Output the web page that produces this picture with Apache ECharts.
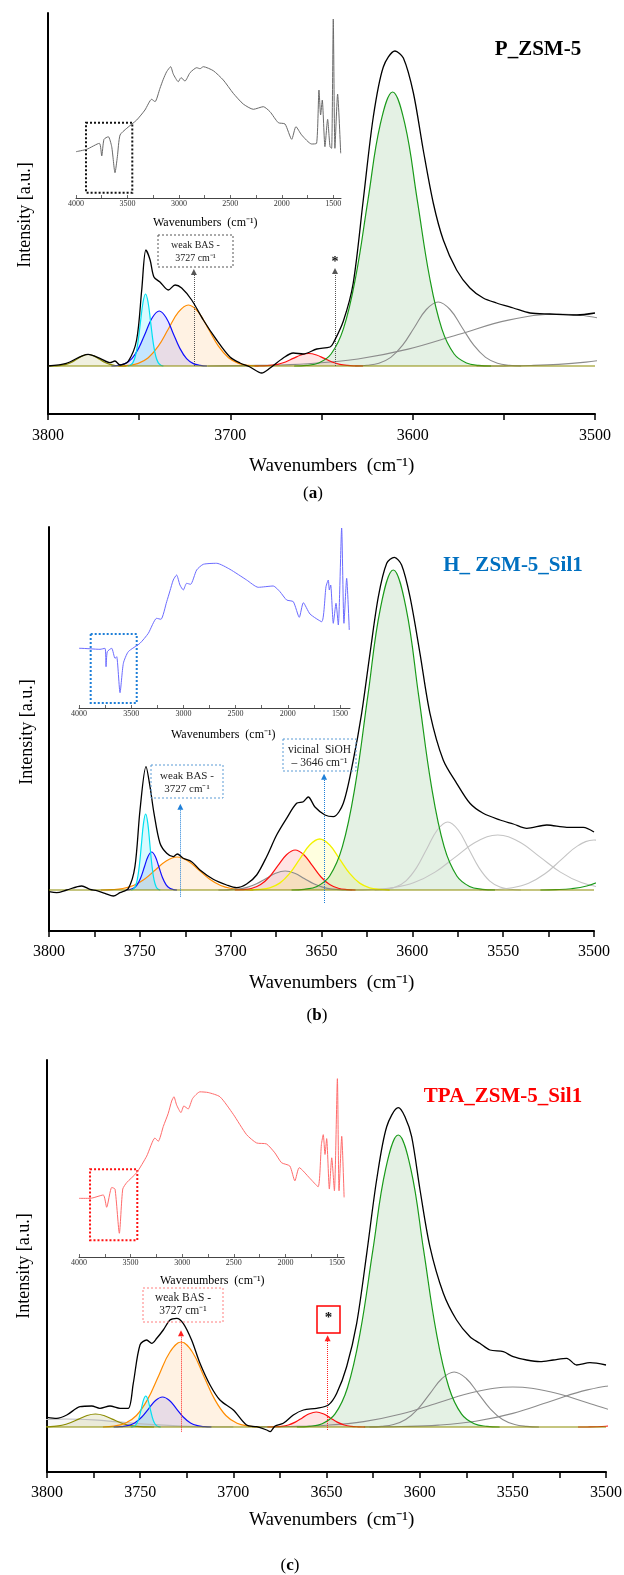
<!DOCTYPE html>
<html><head><meta charset="utf-8">
<script src="https://cdn.jsdelivr.net/npm/echarts@6/dist/echarts.min.js"></script>
<style>html,body{margin:0;padding:0;background:#fff}#c{width:624px;height:1575px}</style>
</head><body><div id="c"></div>
<script>
const FONT = "'Liberation Serif','Times New Roman',serif";
const baseline = [[3800, 0], [3500, 0]];
const mainTicks = ['3800', '3750', '3700', '3650', '3600', '3550', '3500'];
const insetTickVals = [4000, 3750, 3500, 3250, 3000, 2750, 2500, 2250, 2000, 1750, 1500];
const insetLabelVals = [4000, 3500, 3000, 2500, 2000, 1500];

// ---------- Panel (a) P_ZSM-5 ----------
const aBlack = [[3800,0],[3790,2.7],[3778,11.7],[3771.5,7.7],[3766,3.3],[3763.3,5],[3760.5,1],[3756,4.7],[3751.4,26],[3748.6,76],[3746.3,116],[3744,106],[3741.9,89],[3738.6,84],[3734,76],[3730.3,81],[3726.7,78],[3721.2,66],[3714.8,46],[3707.5,26],[3700.2,9],[3694.7,3],[3689.2,-1],[3682.8,-7],[3678.2,-2],[3671,8],[3665.5,13],[3660,12],[3652.6,17],[3645.3,19],[3643.5,23],[3638,45],[3632.6,83],[3627.1,166],[3621.6,249],[3616.1,299],[3609.7,315],[3605.1,308],[3599.6,273],[3594.2,216],[3588.7,163],[3583.2,126],[3575.9,96],[3568.6,78],[3561.3,68],[3554,63],[3544.8,58],[3535.6,53],[3524.7,52],[3510,51],[3500,53]];
const aOlive = [[3799,0],[3796,0.13],[3793,0.5],[3790,1.56],[3787,3.73],[3784,6.97],[3781,10.15],[3778,11.5],[3775,10.15],[3772,6.97],[3769,3.73],[3766,1.56],[3763,0.5],[3760,0.13],[3757,0]];
const aCyan = [[3756.3,0],[3754.9,0.8],[3753.5,3.16],[3752.1,9.74],[3750.7,23.4],[3749.3,43.7],[3747.9,63.5],[3746.5,72],[3745.1,63.5],[3743.7,43.7],[3742.3,23.4],[3740.9,9.74],[3739.5,3.16],[3738.1,0.8],[3736.7,0]];
const aBlue = [[3765.25,0],[3761.5,0.61],[3757.75,2.41],[3754,7.44],[3750.25,17.86],[3746.5,33.36],[3742.75,48.54],[3739,55],[3735.25,48.54],[3731.5,33.36],[3727.75,17.86],[3724,7.44],[3720.25,2.41],[3716.5,0.61],[3712.75,0]];
const aOrange = [[3761.5,0],[3756,0.68],[3750.5,2.68],[3745,8.25],[3739.5,19.8],[3734,37],[3728.5,53.8],[3723,61],[3717.5,53.8],[3712,37],[3706.5,19.8],[3701,8.25],[3695.5,2.68],[3690,0.68],[3684.5,0]];
const aRed = [[3686.75,0],[3682.5,0.14],[3678.25,0.55],[3674,1.69],[3669.75,4.06],[3665.5,7.58],[3661.25,11.03],[3657,12.5],[3652.75,11.03],[3648.5,7.58],[3644.25,4.06],[3640,1.69],[3635.75,0.55],[3631.5,0.14],[3627.25,0]];
const aGreen = [[3665,0],[3658.25,0.6],[3651.5,3.04],[3644.75,12],[3638,37.1],[3631.25,89],[3624.5,166.2],[3617.75,241.8],[3611,274],[3604.25,241.8],[3597.5,166.2],[3590.75,89],[3584,37.1],[3577.25,12],[3570.5,3.04],[3563.75,0.6],[3557,0]];
const aGray1 = [[3631.5,0],[3625,0.71],[3618.5,2.81],[3612,8.66],[3605.5,20.8],[3599,38.8],[3592.5,56.5],[3586,64],[3579.5,56.5],[3573,38.8],[3566.5,20.8],[3560,8.66],[3553.5,2.81],[3547,0.71],[3540.5,0]];
const aGray2 = [[3712.5,0],[3685,0.58],[3657.5,2.28],[3630,7.04],[3602.5,16.9],[3575,31.5],[3547.5,45.9],[3520,52],[3492.5,45.9],[3465,31.5]];
const aGray3 = [[3565,0],[3550,0.13],[3535,0.53],[3520,1.62],[3505,3.9],[3490,7.3],[3475,10.6],[3460,12]];
const aInset = [[4000,46.3],[3896,48.7],[3773,54.7],[3750,42],[3728,58.7],[3686,61.3],[3653,51.3],[3621,25.3],[3598,41.3],[3572,63],[3507,69.7],[3410,78],[3330,88],[3265,98.7],[3232,96.3],[3184,109.7],[3152,118.7],[3119,126.3],[3080,131.3],[3055,124],[3006,116.3],[2980,120.3],[2941,117],[2892,125.3],[2827,130.3],[2795,129.3],[2763,131.3],[2666,127.3],[2569,118],[2472,104.7],[2375,94],[2277,88.7],[2180,91.3],[2115,86.3],[2034,75.3],[1969,74],[1904,58.7],[1863,71.3],[1807,63],[1710,54],[1662,54.7],[1639,108],[1623,83],[1607,98],[1581,51.3],[1555,78.7],[1532,51.3],[1516,49.7],[1500,179],[1484,49.7],[1458,104],[1428,44.7]];
const aInsetBox = [[3903, 75.3], [3453, 5.3]];
const aArrows = [[3720, 0, 94], [3642.6, 0, 95]];

// ---------- Panel (b) H_ZSM-5_Sil1 ----------
const bBlack = [[3800,-1.7],[3795.8,-2.7],[3790.3,0],[3782,4],[3777.4,0.7],[3773.7,-0.7],[3769.2,-3.3],[3764.6,-6],[3761,-2.7],[3756.3,1.7],[3752.7,23.3],[3749.9,80],[3746.6,123.3],[3744.4,103.3],[3742.2,76.7],[3738.9,46.7],[3735.2,36.7],[3731.6,33.3],[3729.4,36],[3726.1,31.7],[3721.5,28.3],[3716.9,20],[3709.6,10.7],[3702.2,5],[3696.7,2.3],[3691.2,6],[3685.7,15],[3680.2,33.3],[3674.7,55],[3669.2,71.7],[3663.7,86.7],[3660,88.3],[3657.3,93],[3653.6,83],[3648.1,75],[3643.5,73.3],[3638,86.7],[3632.5,130],[3627.9,176.7],[3623.3,236.7],[3618.7,293.3],[3614.1,326.7],[3609.9,332.7],[3605.9,325],[3601.3,293.3],[3595.8,236.7],[3590.3,176.7],[3583,130],[3575.6,106.7],[3568.3,86.7],[3561,76.7],[3551.7,70],[3544.4,66],[3537,61.7],[3526,65],[3515,62.7],[3505.9,62.7],[3500,58]];
const bCyan = [[3754.85,0],[3753.7,0.84],[3752.55,3.34],[3751.4,10.3],[3750.25,24.7],[3749.1,46.1],[3747.95,67.1],[3746.8,76],[3745.65,67.1],[3744.5,46.1],[3743.35,24.7],[3742.2,10.3],[3741.05,3.34],[3739.9,0.84],[3738.75,0]];
const bBlue = [[3757.5,0],[3755.5,0.42],[3753.5,1.67],[3751.5,5.14],[3749.5,12.3],[3747.5,23],[3745.5,33.5],[3743.5,38],[3741.5,33.5],[3739.5,23],[3737.5,12.3],[3735.5,5.14],[3733.5,1.67],[3731.5,0.42],[3729.5,0]];
const bOrange = [[3771.5,0],[3765.5,0.37],[3759.5,1.45],[3753.5,4.46],[3747.5,10.7],[3741.5,20],[3735.5,29.1],[3729.5,33],[3723.5,29.1],[3717.5,20],[3711.5,10.7],[3705.5,4.46],[3699.5,1.45],[3693.5,0.37],[3687.5,0]];
const bGrayL = [[3706.75,0],[3701.5,0.21],[3696.25,0.83],[3691,2.57],[3685.75,6.17],[3680.5,11.5],[3675.25,16.8],[3670,19],[3664.75,16.8],[3659.5,11.5],[3654.25,6.17],[3649,2.57],[3643.75,0.83],[3638.5,0.21],[3633.25,0]];
const bRed = [[3697.75,0],[3693,0.44],[3688.25,1.76],[3683.5,5.41],[3678.75,13],[3674,24.3],[3669.25,35.3],[3664.5,40],[3659.75,35.3],[3655,24.3],[3650.25,13],[3645.5,5.41],[3640.75,1.76],[3636,0.44],[3631.25,0]];
const bYellow = [[3689.5,0],[3684,0.57],[3678.5,2.24],[3673,6.9],[3667.5,16.6],[3662,30.9],[3656.5,45],[3651,51],[3645.5,45],[3640,30.9],[3634.5,16.6],[3629,6.9],[3623.5,2.24],[3618,0.57],[3612.5,0]];
const bGreen = [[3666.5,0],[3659.5,0.7],[3652.5,3.55],[3645.5,14],[3638.5,43.3],[3631.5,103.9],[3624.5,194.1],[3617.5,282.4],[3610.5,320],[3603.5,282.4],[3596.5,194.1],[3589.5,103.9],[3582.5,43.3],[3575.5,14],[3568.5,3.55],[3561.5,0.7],[3554.5,0]];
const bGray1 = [[3620.75,0],[3615,0.75],[3609.25,2.99],[3603.5,9.2],[3597.75,22.1],[3592,41.2],[3586.25,60],[3580.5,68],[3574.75,60],[3569,41.2],[3563.25,22.1],[3557.5,9.2],[3551.75,2.99],[3546,0.75],[3540.25,0]];
const bGray2 = [[3633.5,0],[3622,0.61],[3610.5,2.41],[3599,7.44],[3587.5,17.9],[3576,33.4],[3564.5,48.5],[3553,55],[3541.5,48.5],[3530,33.4],[3518.5,17.9],[3507,7.44],[3495.5,2.41],[3484,0.61],[3472.5,0]];
const bGray3 = [[3563,0],[3554,0.56],[3545,2.2],[3536,6.8],[3527,16.2],[3518,30.3],[3509,44.1],[3500,50],[3491,44.1],[3482,30.3]];
const bGreen2 = [[3529.5,0],[3521,0.33],[3512.5,1.32],[3504,4.06],[3495.5,9.74],[3487,18.2],[3478.5,26.5],[3470,30]];
const bInset = [[4000,59.7],[3990,59.7],[3799,58.7],[3751,59.7],[3741,41.3],[3729,56.3],[3687,59.7],[3655,49.7],[3639,51.3],[3607,15.3],[3575,44.7],[3528,56.3],[3416,64.7],[3336,74.7],[3256,89.7],[3215,88.7],[3160,106.3],[3128,117.3],[3097,128],[3065,133],[3033,123],[3001,118],[2969,124.7],[2931,123.7],[2873,138],[2809,143.7],[2681,144.7],[2554,138.7],[2394,128],[2283,120.7],[2139,122],[2075,116.3],[2011,108],[1947,106.3],[1890,90.7],[1851,105.3],[1787,94],[1675,86.3],[1634,121.3],[1612,128],[1602,118],[1589,123],[1564,84.7],[1538,104.7],[1516,83],[1484,180],[1462,84.7],[1436,129.7],[1411,78]];
const bInsetBox = [[3888, 74], [3447, 5]];
const bArrows = [[3727.7, -6.7, 83.3], [3648.6, -13, 113.3]];

// ---------- Panel (c) TPA_ZSM-5_Sil1 ----------
const cBlack = [[3800,9.7],[3794.8,8.7],[3789.4,12],[3782.3,20.3],[3776,21],[3771.6,18.7],[3766.2,21],[3760.8,18.7],[3756.4,18.7],[3753.7,43.7],[3750.1,82],[3746.5,87],[3743.8,83.7],[3741.1,88.7],[3737.6,97],[3734,107],[3730.4,108.7],[3726.9,103.7],[3722.4,87],[3717.9,63.7],[3712.5,42],[3707.2,27],[3700,17],[3692.9,2],[3687.5,0.3],[3682.1,-3],[3680.3,-4.7],[3677.6,1],[3673.2,3.7],[3667.8,12],[3662.4,17],[3655.3,18.7],[3649,22],[3644.5,33.7],[3639.2,60.3],[3633.8,103.7],[3628.4,173.7],[3623.1,247],[3617.7,300.3],[3611.5,319.3],[3607.9,310.3],[3604.3,290.3],[3599.8,237],[3594.5,180.3],[3587.3,133.7],[3580.2,107],[3573,90.3],[3567.7,83.7],[3562.3,77],[3555.1,75.3],[3549.8,70.3],[3542.6,67],[3535.4,65.3],[3528.3,67],[3521.1,68.7],[3515.8,62],[3508.6,64.3],[3500,62]];
const cGrayL = [[3835,2.6],[3820,4.85],[3805,7.06],[3790,8],[3775,7.06],[3760,4.85],[3745,2.6],[3730,1.08],[3715,0.35],[3700,0.09]];
const cOlive = [[3805.5,0],[3801,0.14],[3796.5,0.57],[3792,1.76],[3787.5,4.22],[3783,7.88],[3778.5,11.5],[3774,13],[3769.5,11.5],[3765,7.88],[3760.5,4.22],[3756,1.76],[3751.5,0.57],[3747,0.14],[3742.5,0]];
const cCyan = [[3755.05,0],[3753.9,0.34],[3752.75,1.36],[3751.6,4.19],[3750.45,10.1],[3749.3,18.8],[3748.15,27.4],[3747,31],[3745.85,27.4],[3744.7,18.8],[3743.55,10.1],[3742.4,4.19],[3741.25,1.36],[3740.1,0.34],[3738.95,0]];
const cBlue = [[3764.25,0],[3760.5,0.33],[3756.75,1.32],[3753,4.06],[3749.25,9.74],[3745.5,18.2],[3741.75,26.5],[3738,30],[3734.25,26.5],[3730.5,18.2],[3726.75,9.74],[3723,4.06],[3719.25,1.32],[3715.5,0.33],[3711.75,0]];
const cOrange = [[3770,0],[3764,0.94],[3758,3.73],[3752,11.5],[3746,27.6],[3740,51.6],[3734,75],[3728,85],[3722,75],[3716,51.6],[3710,27.6],[3704,11.5],[3698,3.73],[3692,0.94],[3686,0]];
const cRed = [[3681.75,0],[3678,0.17],[3674.25,0.66],[3670.5,2.03],[3666.75,4.87],[3663,9.1],[3659.25,13.2],[3655.5,15],[3651.75,13.2],[3648,9.1],[3644.25,4.87],[3640.5,2.03],[3636.75,0.66],[3633,0.17],[3629.25,0]];
const cGreen = [[3665.9,0],[3659.1,0.64],[3652.3,3.24],[3645.5,12.8],[3638.7,39.5],[3631.9,94.8],[3625.1,177.1],[3618.3,257.7],[3611.5,292],[3604.7,257.7],[3597.9,177.1],[3591.1,94.8],[3584.3,39.5],[3577.5,12.8],[3570.7,3.24],[3563.9,0.64],[3557.1,0]];
const cGray1 = [[3627,0],[3620.5,0.61],[3614,2.41],[3607.5,7.44],[3601,17.9],[3594.5,33.4],[3588,48.5],[3581.5,55],[3575,48.5],[3568.5,33.4],[3562,17.9],[3555.5,7.44],[3549,2.41],[3542.5,0.61],[3536,0]];
const cGray2 = [[3690,0.09],[3670,0.44],[3650,1.76],[3630,5.41],[3610,13],[3590,24.3],[3570,35.3],[3550,40],[3530,35.3],[3510,24.3],[3490,13],[3470,5.41]];
const cGray3 = [[3630,0.09],[3610,0.47],[3590,1.85],[3570,5.7],[3550,13.6],[3530,25.5],[3510,37.1],[3490,42],[3470,37.1]];
const cRed2 = [[3515,0],[3510,0.07],[3505,0.26],[3500,0.81],[3495,1.95],[3490,3.64]];
const cInset = [[4000,59.3],[3893,59.3],[3765,62.7],[3732,50.3],[3683,70.3],[3651,68.7],[3609,24],[3576,68.7],[3537,75.3],[3441,85.3],[3344,102],[3264,120.3],[3232,117],[3183,132],[3135,145.3],[3102,157.7],[3080,162],[3054,153.7],[3012,146],[2984,152.7],[2942,149.7],[2899,160.3],[2828,167],[2748,166.3],[2634,162],[2505,144.3],[2376,123.7],[2279,115.3],[2183,114.3],[2102,105.3],[2037,95.3],[1957,92],[1908,77],[1866,90.3],[1764,79.7],[1683,71],[1651,113.7],[1633,123.7],[1616,103.7],[1600,119.7],[1574,68.7],[1551,100.3],[1525,67],[1496,180.3],[1480,67],[1454,122],[1431,60.3]];
const cInsetBox = [[3893, 88.7], [3435, 17]];
const cArrows = [[3728.1, -4.7, 93.7], [3649.4, -3, 88.7]];

// ---------- colours ----------
const C = {
  olive: ['#8B8B00', 'rgba(139,139,0,0.18)'],
  cyan: ['#00E0F0', 'rgba(0,220,255,0.22)'],
  blue: ['#1010FF', 'rgba(60,60,255,0.17)'],
  orange: ['#FF8C00', 'rgba(255,160,60,0.2)'],
  red: ['#FF1010', 'rgba(255,0,0,0.15)'],
  green: ['#1A9A1A', 'rgba(40,140,40,0.18)'],
  yellow: ['#F2F200', 'rgba(255,255,0,0.18)'],
  gray: ['#8C8C8C', null],
  lgray: ['#C4C4C4', null]
};

function ln(data, ax, col, fill, w, z) {
  const s = {
    type: 'line', data: data, xAxisIndex: ax, yAxisIndex: ax, symbol: 'none', smooth: 0.4,
    silent: true, animation: false, z: z || 2,
    lineStyle: { color: col, width: w || 1.2 }
  };
  if (fill) s.areaStyle = { color: fill, origin: 'auto' };
  return s;
}
function black(data, ax, arrows, acol) {
  const s = ln(data, ax, '#000', null, 1.3, 5);
  s.smooth = 0.3;
  s.markLine = {
    silent: true, animation: false, symbol: ['none', 'triangle'], symbolSize: 6,
    label: { show: false }, lineStyle: { type: 'dotted', color: acol, width: 1 },
    data: arrows.map(a => [{ coord: [a[0], a[1]] }, { coord: [a[0], a[2]] }])
  };
  return s;
}
function inset(data, ax, col, box, boxCol) {
  const s = ln(data, ax, col, null, 1, 3);
  s.smooth = 0.2;
  s.markArea = {
    silent: true, animation: false,
    itemStyle: { color: 'rgba(0,0,0,0)', borderColor: boxCol, borderWidth: 2, borderType: 'dotted' },
    data: [[{ coord: box[0] }, { coord: box[1] }]]
  };
  return s;
}

function mainX(gi, interval, labelStep, margin) {
  return {
    type: 'value', gridIndex: gi, inverse: true, min: 3500, max: 3800, interval: interval,
    axisLine: { onZero: false, lineStyle: { color: '#000', width: 2 } },
    axisTick: { show: true, inside: false, length: 6, lineStyle: { color: '#000', width: 1.5 } },
    axisLabel: { margin: margin, fontSize: 16, fontFamily: FONT, color: '#000',
      formatter: v => (Math.round(v) % labelStep === 0 && mainTicks.indexOf(String(Math.round(v))) >= 0 ? String(Math.round(v)) : '') },
    splitLine: { show: false }
  };
}
function insetX(gi, min) {
  return {
    type: 'value', gridIndex: gi, inverse: true, min: min, max: 4000,
    axisLine: { onZero: false, lineStyle: { color: '#444', width: 1 } },
    axisTick: { show: true, inside: true, length: 3, customValues: insetTickVals, lineStyle: { color: '#444', width: 0.8 } },
    axisLabel: { customValues: insetLabelVals, margin: 2, fontSize: 8, fontFamily: FONT, color: '#333',
      formatter: v => String(Math.round(v)) },
    splitLine: { show: false }
  };
}
function mainY(gi, min, max) {
  return { type: 'value', gridIndex: gi, min: min, max: max,
    axisLine: { show: true, onZero: false, lineStyle: { color: '#000', width: 2 } },
    axisTick: { show: false }, axisLabel: { show: false }, splitLine: { show: false } };
}
function insetY(gi, max) {
  return { type: 'value', gridIndex: gi, min: 0, max: max, show: false, splitLine: { show: false } };
}

const g = (o) => Object.assign({ containLabel: false, outerBoundsMode: 'none' }, o);
const grids = [
  g({ left: 48, top: 13, width: 547, height: 401 }),
  g({ left: 76, top: 18, width: 265, height: 180 }),
  g({ left: 49, top: 527, width: 545, height: 404 }),
  g({ left: 79, top: 528, width: 271, height: 180 }),
  g({ left: 47, top: 1060, width: 559, height: 412 }),
  g({ left: 79, top: 1077, width: 265, height: 180 })
];

const series = [
  // panel a
  ln(aGray2, 0, C.gray[0], null, 1.1),
  ln(aGray3, 0, C.gray[0], null, 1.1),
  ln(aGray1, 0, C.gray[0], null, 1.1),
  ln(aOlive, 0, C.olive[0], C.olive[1]),
  ln(aOrange, 0, C.orange[0], C.orange[1]),
  ln(aBlue, 0, C.blue[0], C.blue[1]),
  ln(aCyan, 0, C.cyan[0], C.cyan[1]),
  ln(aRed, 0, C.red[0], C.red[1]),
  ln(aGreen, 0, C.green[0], C.green[1]),
  ln(baseline, 0, C.olive[0], null, 1.2, 4),
  black(aBlack, 0, aArrows, '#555'),
  inset(aInset, 1, '#6a6a6a', aInsetBox, '#111'),
  // panel b
  ln(bGray1, 2, C.lgray[0], null, 1.1),
  ln(bGray2, 2, C.lgray[0], null, 1.1),
  ln(bGray3, 2, C.lgray[0], null, 1.1),
  ln(bGreen2, 2, C.green[0], null, 1.1),
  ln(bOrange, 2, C.orange[0], C.orange[1]),
  ln(bBlue, 2, C.blue[0], C.blue[1]),
  ln(bCyan, 2, C.cyan[0], C.cyan[1]),
  ln(bGrayL, 2, C.gray[0], 'rgba(150,150,150,0.15)'),
  ln(bRed, 2, C.red[0], C.red[1]),
  ln(bYellow, 2, C.yellow[0], C.yellow[1], 1.3),
  ln(bGreen, 2, C.green[0], C.green[1]),
  ln(baseline, 2, C.olive[0], null, 1.2, 4),
  black(bBlack, 2, bArrows, '#1E7FD8'),
  inset(bInset, 3, '#6B6BFF', bInsetBox, '#1E7FD8'),
  // panel c
  ln(cGrayL, 4, '#BDBDBD', 'rgba(170,170,170,0.12)'),
  ln(cGray2, 4, C.gray[0], null, 1.1),
  ln(cGray3, 4, C.gray[0], null, 1.1),
  ln(cGray1, 4, C.gray[0], null, 1.1),
  ln(cRed2, 4, C.red[0], null, 1.1),
  ln(cOlive, 4, C.olive[0], C.olive[1]),
  ln(cOrange, 4, C.orange[0], C.orange[1]),
  ln(cBlue, 4, C.blue[0], C.blue[1]),
  ln(cCyan, 4, C.cyan[0], C.cyan[1]),
  ln(cRed, 4, C.red[0], C.red[1]),
  ln(cGreen, 4, C.green[0], C.green[1]),
  ln(baseline, 4, C.olive[0], null, 1.2, 4),
  black(cBlack, 4, cArrows, '#FF2020'),
  inset(cInset, 5, '#FF6B6B', cInsetBox, '#FF1010')
];

function txt(x, y, text, font, fill, extra) {
  return Object.assign({ type: 'text', x: x, y: y, silent: true, z: 100,
    style: { text: text, font: font, fill: fill || '#000', align: 'center', verticalAlign: 'middle' } }, extra || {});
}
function box(x, y, w, h, stroke, dash, lw) {
  return { type: 'rect', silent: true, z: 99, shape: { x: x, y: y, width: w, height: h },
    style: { fill: 'rgba(0,0,0,0)', stroke: stroke, lineWidth: lw || 1, lineDash: dash } };
}
function leftTxt(x, y, text, font) {
  return { type: 'text', x: x, y: y, silent: true, z: 100,
    style: { text: text, font: font, fill: '#000', align: 'left', verticalAlign: 'middle' } };
}
function panelLabel(x, y, letter) {
  return { type: 'text', x: x, y: y, silent: true, z: 100,
    style: { text: '{n|(}{b|' + letter + '}{n|)}', align: 'center', verticalAlign: 'middle',
      rich: { n: { font: '17px ' + FONT, fill: '#000' }, b: { font: 'bold 17px ' + FONT, fill: '#000' } } } };
}
const F19 = '19px ' + FONT, F18 = '18px ' + FONT, F12 = '12px ' + FONT;
const TB = 'bold 21px ' + FONT;

const graphic = [
  // panel a
  txt(538, 50, 'P_ZSM-5', TB, '#000'),
  txt(25, 215, 'Intensity [a.u.]', F18, '#000', { rotation: Math.PI / 2 }),
  leftTxt(249, 466, 'Wavenumbers  (cm⁻¹)', F19),
  leftTxt(153, 223, 'Wavenumbers  (cm⁻¹)', F12),
  panelLabel(313, 494, 'a'),
  box(158, 235, 75, 32, '#555', [2, 2], 1),
  txt(195.5, 245, 'weak BAS -', '10px ' + FONT, '#222'),
  txt(195.5, 258, '3727 cm⁻¹', '10px ' + FONT, '#222'),
  txt(335, 262, '*', 'bold 14px ' + FONT, '#111'),
  // panel b
  txt(513, 566, 'H_ ZSM-5_Sil1', TB, '#0070C0'),
  txt(27, 732, 'Intensity [a.u.]', F18, '#000', { rotation: Math.PI / 2 }),
  leftTxt(249, 983, 'Wavenumbers  (cm⁻¹)', F19),
  leftTxt(171, 735, 'Wavenumbers  (cm⁻¹)', F12),
  panelLabel(317, 1016, 'b'),
  box(151, 765, 72, 33, '#5B9BD5', [2, 2], 1),
  txt(187, 776, 'weak BAS -', '11px ' + FONT, '#222'),
  txt(187, 789, '3727 cm⁻¹', '11px ' + FONT, '#222'),
  box(283, 739, 73, 32, '#5B9BD5', [2, 2], 1),
  txt(319.5, 750, 'vicinal  SiOH', '11.5px ' + FONT, '#222'),
  txt(319.5, 762.5, '– 3646 cm⁻¹', '11.5px ' + FONT, '#222'),
  // panel c
  txt(503, 1097, 'TPA_ZSM-5_Sil1', TB, '#FF0000'),
  txt(24, 1266, 'Intensity [a.u.]', F18, '#000', { rotation: Math.PI / 2 }),
  leftTxt(249, 1520, 'Wavenumbers  (cm⁻¹)', F19),
  leftTxt(160, 1281, 'Wavenumbers  (cm⁻¹)', F12),
  panelLabel(290, 1566, 'c'),
  box(143, 1288, 80, 34, '#FF7F7F', [2, 2], 1),
  txt(183, 1297.5, 'weak BAS -', '11.5px ' + FONT, '#222'),
  txt(183, 1311, '3727 cm⁻¹', '11.5px ' + FONT, '#222'),
  box(317, 1306, 23, 27, '#FF0000', null, 1.5),
  txt(328.5, 1318, '*', 'bold 15px ' + FONT, '#111')
];

const chart = echarts.init(document.getElementById('c'), null, { renderer: 'canvas' });
chart.setOption({
  animation: false,
  backgroundColor: '#fff',
  grid: grids,
  xAxis: [mainX(0, 50, 100, 14), insetX(1, 1425), mainX(2, 25, 50, 13), insetX(3, 1404), mainX(4, 25, 50, 13), insetX(5, 1432)],
  yAxis: [mainY(0, -48, 353), insetY(1, 180), mainY(2, -41, 363), insetY(3, 180), mainY(4, -45, 367), insetY(5, 182)],
  series: series,
  graphic: graphic
});
</script></body></html>
